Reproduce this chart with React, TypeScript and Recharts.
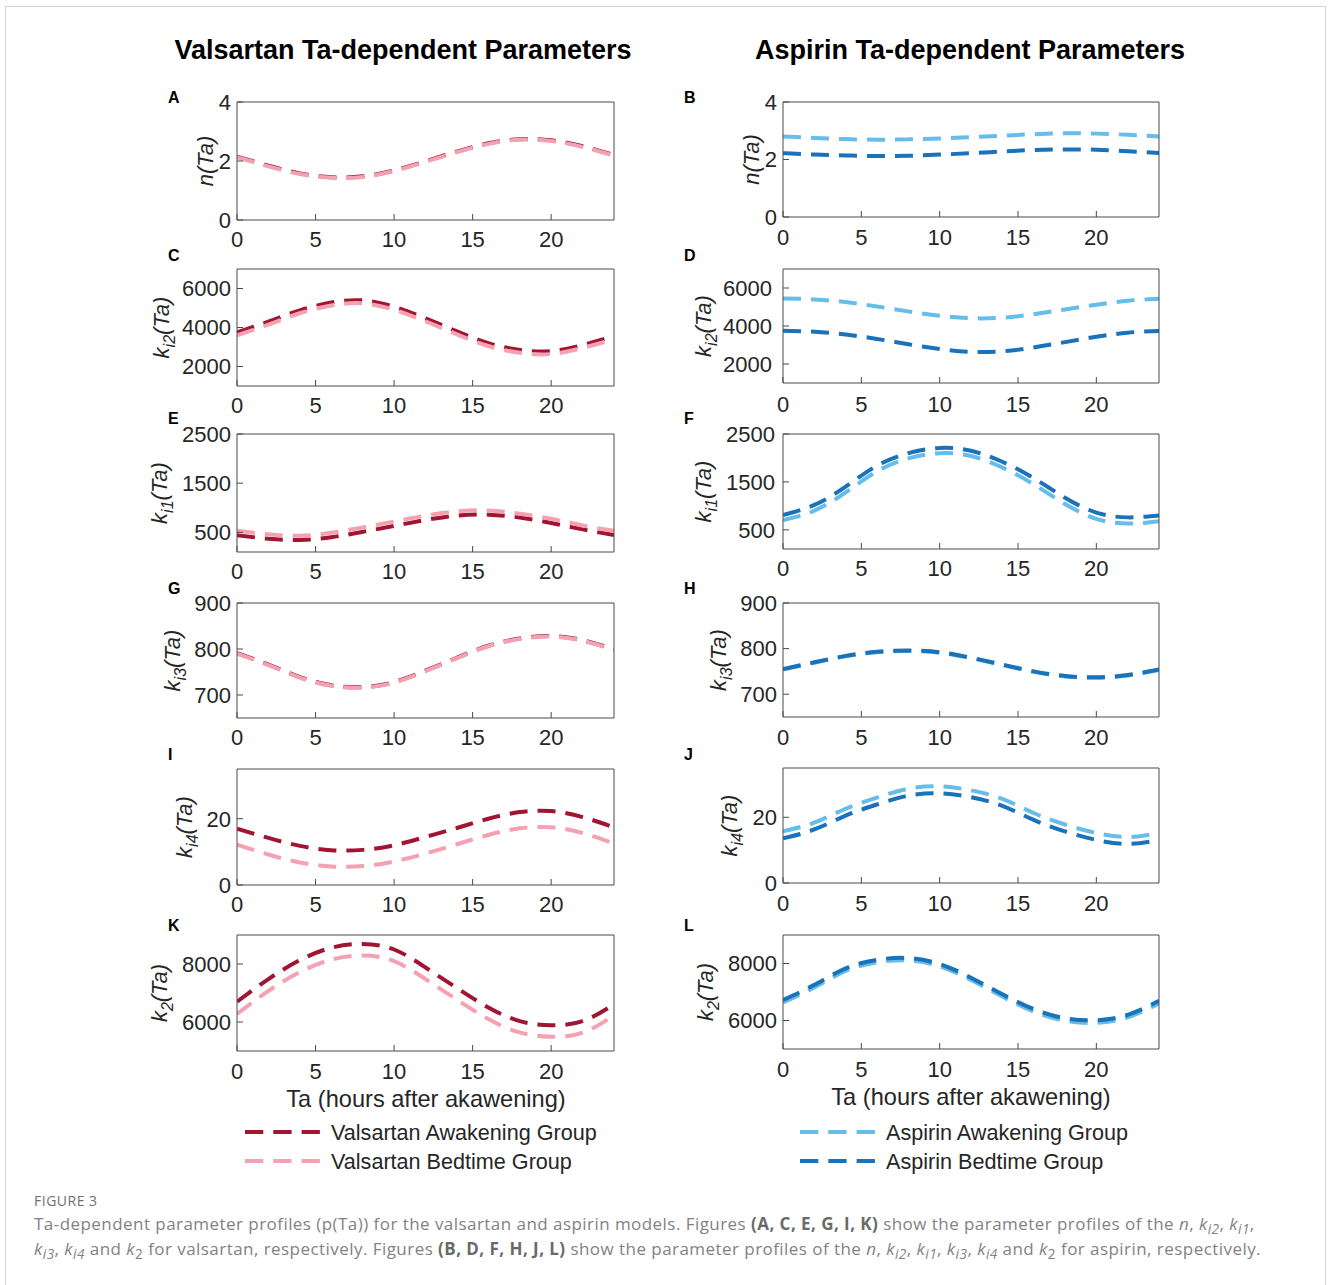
import React from 'react';
import { LineChart, Line, XAxis, YAxis } from 'recharts';

const ta = [0, 2, 4, 6, 8, 10, 12, 14, 16, 18, 20, 22, 24];
const xTicks = [0, 5, 10, 15, 20];

// A: n(Ta) valsartan
const nValAwake = [2.15, 1.84, 1.58, 1.45, 1.48, 1.68, 1.99, 2.32, 2.6, 2.74, 2.7, 2.5, 2.2];
const nValBed = [2.13, 1.82, 1.56, 1.43, 1.46, 1.66, 1.97, 2.3, 2.58, 2.72, 2.68, 2.48, 2.18];
// B: n(Ta) aspirin
const nAspAwake = [2.8, 2.75, 2.71, 2.69, 2.7, 2.73, 2.78, 2.83, 2.88, 2.91, 2.9, 2.86, 2.8];
const nAspBed = [2.22, 2.17, 2.14, 2.12, 2.13, 2.17, 2.22, 2.28, 2.33, 2.35, 2.34, 2.29, 2.23];
// C: ki2 valsartan
const ki2ValAwake = [3750, 4300, 4880, 5280, 5390, 5060, 4470, 3800, 3200, 2850, 2790, 3100, 3550];
const ki2ValBed = [3600, 4150, 4730, 5130, 5240, 4910, 4320, 3650, 3050, 2700, 2640, 2950, 3400];
// D: ki2 aspirin
const ki2AspAwake = [5450, 5400, 5260, 5030, 4770, 4540, 4410, 4440, 4620, 4870, 5120, 5330, 5440];
const ki2AspBed = [3750, 3700, 3550, 3320, 3040, 2790, 2640, 2670, 2870, 3150, 3430, 3650, 3740];
// E: ki1 valsartan
const ki1ValAwake = [440, 370, 345, 400, 510, 630, 750, 840, 860, 800, 690, 560, 445];
const ki1ValBed = [530, 460, 430, 490, 600, 720, 840, 925, 945, 880, 775, 640, 530];
// F: ki1 aspirin
const ki1AspAwake = [700, 900, 1280, 1720, 1990, 2100, 2040, 1800, 1450, 1040, 730, 630, 680];
const ki1AspBed = [810, 1020, 1400, 1840, 2100, 2210, 2150, 1920, 1580, 1170, 860, 760, 800];
// G: ki3 valsartan
const ki3ValAwake = [791, 766, 739, 721, 717, 728, 753, 781, 807, 823, 828, 819, 799];
const ki3ValBed = [790, 765, 738, 720, 716, 727, 752, 780, 806, 822, 827, 818, 798];
// H: ki3 aspirin
const ki3AspAwake = [754, 769, 783, 792, 795, 791, 779, 764, 749, 739, 736, 741, 753];
const ki3AspBed = [755, 770, 784, 793, 796, 792, 780, 765, 750, 740, 737, 742, 754];
// I: ki4 valsartan
const ki4ValAwake = [17, 14.2, 11.8, 10.5, 10.6, 12, 14.5, 17.2, 20, 22, 22.3, 20.5, 17.4];
const ki4ValBed = [12.2, 9.2, 6.8, 5.6, 5.7, 7.1, 9.5, 12.3, 15.1, 17.1, 17.4, 15.7, 12.5];
// J: ki4 aspirin
const ki4AspAwake = [15.7, 18.4, 22.6, 26.0, 28.7, 29.4, 28.2, 25.6, 21.3, 17.8, 15.2, 14.0, 15.2];
const ki4AspBed = [13.6, 16.3, 20.5, 23.9, 26.6, 27.3, 26.1, 23.5, 19.2, 15.7, 13.1, 11.9, 13.1];
// K: k2 valsartan
const k2ValAwake = [6700, 7480, 8130, 8560, 8690, 8500, 7880, 7170, 6500, 6030, 5890, 6030, 6610];
const k2ValBed = [6280, 7070, 7720, 8150, 8290, 8100, 7480, 6770, 6100, 5640, 5490, 5630, 6230];
// L: k2 aspirin
const k2AspAwake = [6630, 7160, 7740, 8040, 8110, 7900, 7420, 6840, 6310, 5990, 5920, 6110, 6600];
const k2AspBed = [6720, 7250, 7830, 8130, 8190, 7980, 7500, 6920, 6400, 6080, 6010, 6200, 6690];

const VAL_AWAKE = '#a2142f';
const VAL_BED = '#f4a2b2';
const ASP_AWAKE = '#66bdea';
const ASP_BED = '#1a72ba';
const AX = '#4a4a4a';
const TXT = '#262626';
const FONT = '"Liberation Sans", Arial, Helvetica, sans-serif';
const DASH = '18 10';

type PanelProps = {
  plotLeft: number;
  plotTop: number;
  plotW: number;
  plotH: number;
  awake: number[];
  bed: number[];
  cAwake: string;
  cBed: string;
  domain: [number, number];
  yTicks: number[];
  labelSub?: string;
  labelMain: string;
  labelOffset: number;
  yGap: number;
  xMargin: number;
};

function Panel(p: PanelProps) {
  const data = ta.map((t, i) => ({ t, a: p.awake[i], b: p.bed[i] }));
  const LW = 110;
  const RW = 1;
  const MR = 10;
  const MT = 10;
  const TH = 1;
  const XH = 44;
  const width = LW + p.plotW + RW + MR;
  const height = MT + TH + p.plotH + XH;
  const bx = LW - p.labelOffset;
  const cy = MT + TH + p.plotH / 2;
  const renderLabel = () => (
    <text
      x={bx}
      y={cy}
      transform={`rotate(-90 ${bx} ${cy})`}
      textAnchor="middle"
      fontStyle="italic"
      fontSize={22}
      fill={TXT}
      fontFamily={FONT}
    >
      {p.labelMain}
      {p.labelSub ? (
        <tspan dy={6} fontSize={16}>
          {p.labelSub}
        </tspan>
      ) : null}
      {p.labelSub ? <tspan dy={-6}>(Ta)</tspan> : null}
    </text>
  );
  const tickStyle = { fill: TXT, fontSize: 22, fontFamily: FONT };
  return (
    <div style={{ position: 'absolute', left: p.plotLeft - LW, top: p.plotTop - MT - TH }}>
      <LineChart width={width} height={height} data={data} margin={{ top: MT, right: MR, bottom: 0, left: 0 }}>
        <XAxis
          dataKey="t"
          type="number"
          domain={[0, 24]}
          ticks={xTicks}
          allowDataOverflow
          interval={0}
          height={XH}
          tickSize={-6}
          tickMargin={p.xMargin}
          axisLine={{ stroke: AX }}
          tickLine={{ stroke: AX }}
          tick={tickStyle}
        />
        <XAxis
          xAxisId="top"
          orientation="top"
          dataKey="t"
          type="number"
          domain={[0, 24]}
          ticks={xTicks}
          allowDataOverflow
          interval={0}
          height={TH}
          tickSize={-6}
          tick={false}
          axisLine={{ stroke: AX }}
          tickLine={{ stroke: AX }}
        />
        <YAxis
          type="number"
          domain={p.domain}
          ticks={p.yTicks}
          allowDataOverflow
          interval={0}
          width={LW}
          tickSize={-6}
          tickMargin={6 + p.yGap}
          axisLine={{ stroke: AX }}
          tickLine={{ stroke: AX }}
          tick={tickStyle}
          label={{ content: renderLabel }}
        />
        <YAxis
          yAxisId="r"
          orientation="right"
          type="number"
          domain={p.domain}
          ticks={p.yTicks}
          allowDataOverflow
          interval={0}
          width={RW}
          tickSize={-6}
          tick={false}
          axisLine={{ stroke: AX }}
          tickLine={{ stroke: AX }}
        />
        <Line
          dataKey="a"
          type="natural"
          stroke={p.cAwake}
          strokeWidth={4}
          strokeDasharray={DASH}
          dot={false}
          activeDot={false}
          isAnimationActive={false}
        />
        <Line
          dataKey="b"
          type="natural"
          stroke={p.cBed}
          strokeWidth={4}
          strokeDasharray={DASH}
          dot={false}
          activeDot={false}
          isAnimationActive={false}
        />
      </LineChart>
    </div>
  );
}

const L_X = 237;
const L_W = 377;
const R_X = 783;
const R_W = 376;

const panelLetters = [
  { t: 'A', x: 168, y: 103 },
  { t: 'B', x: 684, y: 103 },
  { t: 'C', x: 168, y: 261 },
  { t: 'D', x: 684, y: 261 },
  { t: 'E', x: 168, y: 424 },
  { t: 'F', x: 684, y: 424 },
  { t: 'G', x: 168, y: 594 },
  { t: 'H', x: 684, y: 594 },
  { t: 'I', x: 168, y: 760 },
  { t: 'J', x: 684, y: 760 },
  { t: 'K', x: 168, y: 931 },
  { t: 'L', x: 684, y: 931 },
];

const Sub = ({ children }: { children: React.ReactNode }) => (
  <span style={{ fontSize: '0.8em', position: 'relative', top: '0.3em' }}>{children}</span>
);
const K = ({ s }: { s: string }) => (
  <>
    <i>k</i>
    <Sub>
      <i>{s}</i>
    </Sub>
  </>
);

export default function App() {
  return (
    <div
      style={{
        position: 'absolute',
        left: 0,
        top: 0,
        width: 1328,
        height: 1285,
        overflow: 'hidden',
        background: '#ffffff',
        fontFamily: FONT,
      }}
    >
      <div
        style={{
          position: 'absolute',
          left: 5,
          top: 6,
          width: 1321,
          height: 1300,
          border: '1px solid #d4d4d4',
          boxSizing: 'border-box',
        }}
      />
      <svg width={1328} height={1285} style={{ position: 'absolute', left: 0, top: 0 }}>
        <text x={403} y={59} textAnchor="middle" fontSize={27} fontWeight="bold" fill="#000" fontFamily={FONT}>
          Valsartan Ta-dependent Parameters
        </text>
        <text x={970} y={59} textAnchor="middle" fontSize={27} fontWeight="bold" fill="#000" fontFamily={FONT}>
          Aspirin Ta-dependent Parameters
        </text>
        {panelLetters.map((l) => (
          <text key={l.t} x={l.x} y={l.y} fontSize={16} fontWeight="bold" fill="#000" fontFamily={FONT}>
            {l.t}
          </text>
        ))}
        <text x={426} y={1107} textAnchor="middle" fontSize={23.6} fill={TXT} fontFamily={FONT}>
          Ta (hours after akawening)
        </text>
        <text x={971} y={1105} textAnchor="middle" fontSize={23.6} fill={TXT} fontFamily={FONT}>
          Ta (hours after akawening)
        </text>
        <line x1={245} x2={322} y1={1132} y2={1132} stroke={VAL_AWAKE} strokeWidth={4} strokeDasharray="18.3 10" />
        <text x={331} y={1140} fontSize={21.6} fill={TXT} fontFamily={FONT}>
          Valsartan Awakening Group
        </text>
        <line x1={245} x2={322} y1={1161} y2={1161} stroke={VAL_BED} strokeWidth={4} strokeDasharray="18.3 10" />
        <text x={331} y={1169} fontSize={21.6} fill={TXT} fontFamily={FONT}>
          Valsartan Bedtime Group
        </text>
        <line x1={800} x2={877} y1={1132} y2={1132} stroke={ASP_AWAKE} strokeWidth={4} strokeDasharray="18.3 10" />
        <text x={886} y={1140} fontSize={21.6} fill={TXT} fontFamily={FONT}>
          Aspirin Awakening Group
        </text>
        <line x1={800} x2={877} y1={1161} y2={1161} stroke={ASP_BED} strokeWidth={4} strokeDasharray="18.3 10" />
        <text x={886} y={1169} fontSize={21.6} fill={TXT} fontFamily={FONT}>
          Aspirin Bedtime Group
        </text>
      </svg>

      <Panel plotLeft={L_X} plotTop={102} plotW={L_W} plotH={118} awake={nValAwake} bed={nValBed} cAwake={VAL_AWAKE} cBed={VAL_BED} domain={[0, 4]} yTicks={[0, 2, 4]} labelMain="n(Ta)" labelOffset={24} yGap={6} xMargin={17} />
      <Panel plotLeft={R_X} plotTop={102} plotW={R_W} plotH={115} awake={nAspAwake} bed={nAspBed} cAwake={ASP_AWAKE} cBed={ASP_BED} domain={[0, 4]} yTicks={[0, 2, 4]} labelMain="n(Ta)" labelOffset={24} yGap={6} xMargin={18} />
      <Panel plotLeft={L_X} plotTop={269} plotW={L_W} plotH={117} awake={ki2ValAwake} bed={ki2ValBed} cAwake={VAL_AWAKE} cBed={VAL_BED} domain={[1000, 7000]} yTicks={[2000, 4000, 6000]} labelMain="k" labelSub="i2" labelOffset={68} yGap={6} xMargin={17} />
      <Panel plotLeft={R_X} plotTop={269} plotW={R_W} plotH={114} awake={ki2AspAwake} bed={ki2AspBed} cAwake={ASP_AWAKE} cBed={ASP_BED} domain={[1000, 7000]} yTicks={[2000, 4000, 6000]} labelMain="k" labelSub="i2" labelOffset={72} yGap={11} xMargin={19} />
      <Panel plotLeft={L_X} plotTop={434} plotW={L_W} plotH={118} awake={ki1ValAwake} bed={ki1ValBed} cAwake={VAL_AWAKE} cBed={VAL_BED} domain={[100, 2500]} yTicks={[500, 1500, 2500]} labelMain="k" labelSub="i1" labelOffset={70} yGap={6} xMargin={17} />
      <Panel plotLeft={R_X} plotTop={434} plotW={R_W} plotH={115} awake={ki1AspAwake} bed={ki1AspBed} cAwake={ASP_AWAKE} cBed={ASP_BED} domain={[100, 2500]} yTicks={[500, 1500, 2500]} labelMain="k" labelSub="i1" labelOffset={72} yGap={8} xMargin={17} />
      <Panel plotLeft={L_X} plotTop={603} plotW={L_W} plotH={115} awake={ki3ValAwake} bed={ki3ValBed} cAwake={VAL_AWAKE} cBed={VAL_BED} domain={[650, 900]} yTicks={[700, 800, 900]} labelMain="k" labelSub="i3" labelOffset={57} yGap={6} xMargin={17} />
      <Panel plotLeft={R_X} plotTop={603} plotW={R_W} plotH={114} awake={ki3AspAwake} bed={ki3AspBed} cAwake={ASP_AWAKE} cBed={ASP_BED} domain={[650, 900]} yTicks={[700, 800, 900]} labelMain="k" labelSub="i3" labelOffset={57} yGap={6} xMargin={18} />
      <Panel plotLeft={L_X} plotTop={769} plotW={L_W} plotH={116} awake={ki4ValAwake} bed={ki4ValBed} cAwake={VAL_AWAKE} cBed={VAL_BED} domain={[0, 35]} yTicks={[0, 20]} labelMain="k" labelSub="i4" labelOffset={45} yGap={6} xMargin={17} />
      <Panel plotLeft={R_X} plotTop={768} plotW={R_W} plotH={115} awake={ki4AspAwake} bed={ki4AspBed} cAwake={ASP_AWAKE} cBed={ASP_BED} domain={[0, 35]} yTicks={[0, 20]} labelMain="k" labelSub="i4" labelOffset={46} yGap={6} xMargin={18} />
      <Panel plotLeft={L_X} plotTop={935} plotW={L_W} plotH={116} awake={k2ValAwake} bed={k2ValBed} cAwake={VAL_AWAKE} cBed={VAL_BED} domain={[5000, 9000]} yTicks={[6000, 8000]} labelMain="k" labelSub="2" labelOffset={70} yGap={6} xMargin={18} />
      <Panel plotLeft={R_X} plotTop={935} plotW={R_W} plotH={114} awake={k2AspAwake} bed={k2AspBed} cAwake={ASP_AWAKE} cBed={ASP_BED} domain={[5000, 9000]} yTicks={[6000, 8000]} labelMain="k" labelSub="2" labelOffset={70} yGap={6} xMargin={18} />

      <div
        style={{
          position: 'absolute',
          left: 34,
          top: 1191,
          fontFamily: '"Open Sans", sans-serif',
          fontSize: 14,
          color: '#6f6f6f',
          letterSpacing: 0.5,
          whiteSpace: 'nowrap',
        }}
      >
        FIGURE 3
      </div>
      <div
        style={{
          position: 'absolute',
          left: 34,
          top: 1212,
          fontFamily: '"Open Sans", sans-serif',
          fontSize: 17,
          lineHeight: '24px',
          letterSpacing: 0.45,
          color: '#828282',
          whiteSpace: 'nowrap',
        }}
      >
        <div>
          Ta-dependent parameter profiles (p(Ta)) for the valsartan and aspirin models. Figures{' '}
          <b style={{ color: '#6a6a6a' }}>(A, C, E, G, I, K)</b> show the parameter profiles of the <i>n</i>, <K s="i2" />,{' '}
          <K s="i1" />,
        </div>
        <div>
          <K s="i3" />, <K s="i4" /> and <i>k</i>
          <Sub>2</Sub> for valsartan, respectively. Figures <b style={{ color: '#6a6a6a' }}>(B, D, F, H, J, L)</b> show the
          parameter profiles of the <i>n</i>, <K s="i2" />, <K s="i1" />, <K s="i3" />, <K s="i4" /> and <i>k</i>
          <Sub>2</Sub> for aspirin, respectively.
        </div>
      </div>
    </div>
  );
}
